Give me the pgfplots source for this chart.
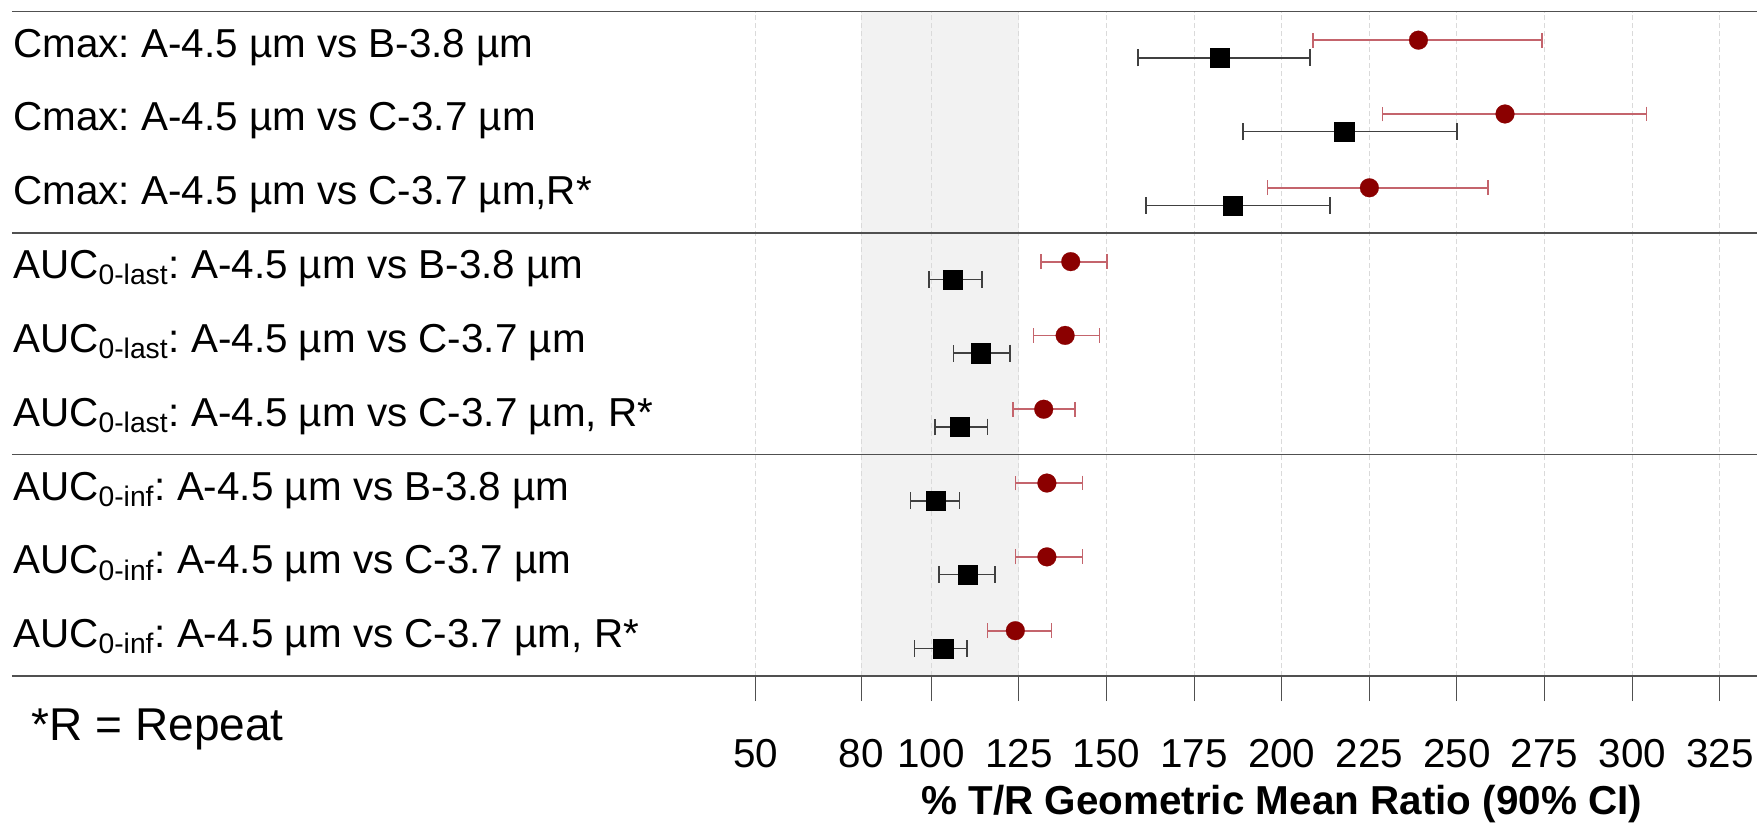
\documentclass[border=0pt]{standalone}
\usepackage{fontspec}
\setmainfont{Liberation Sans}
\usepackage{pgfplots}
\pgfplotsset{compat=1.18}
\usepackage{pgfplotstable}
\definecolor{dred}{HTML}{8B0000}
\definecolor{cired}{HTML}{C4646C}
\definecolor{band}{HTML}{F2F2F2}
\definecolor{gridc}{HTML}{DADADA}
\definecolor{linec}{HTML}{505050}
\definecolor{blk}{HTML}{404040}
\newcommand{\lab}{\fontsize{20.2}{24}\selectfont}
\frenchspacing

\pgfplotstableread{
y     m     lo    hi
8.875 182.2 159.0 208.1
7.875 217.8 189.0 250.0
6.875 185.9 161.2 213.8
5.875 106.2 99.3  114.4
4.875 114.1 106.4 122.4
3.875 108.2 101.0 116.0
2.875 101.2 94.1  108.1
1.875 110.3 102.2 118.2
0.875 103.4 95.2  110.2
}\blackdata

\pgfplotstableread{
y     m     lo    hi
9.115 239.0 209.0 274.2
8.115 263.7 228.8 304.1
7.115 225.0 195.9 258.9
6.115 139.8 131.3 150.1
5.115 138.2 129.2 148.0
4.115 132.1 123.4 141.1
3.115 133.0 124.0 143.2
2.115 133.0 124.0 143.2
1.115 124.0 116.1 134.3
}\reddata

\begin{document}
\begin{tikzpicture}
\begin{axis}[
  scale only axis, width=872.5pt, height=332.15pt,
  xmin=-162.3, xmax=335.6, ymin=0.5, ymax=9.5,
  axis x line*=bottom, axis y line=none,
  x axis line style={-, linec, line width=0.7pt},
  xtick={50,80,100,125,150,175,200,225,250,275,300,325},
  tick align=outside, major tick length=12.5pt,
  xtick style={linec, line width=0.5pt},
  xmajorgrids,
  major grid style={gridc, dash pattern=on 2.5pt off 1.5pt, line width=0.5pt},
  ytick=\empty,
  /pgf/number format/assume math mode=true,
  xticklabel style={font=\lab, anchor=base, yshift=-33.2pt},
  set layers, clip=false,
]
\begin{pgfonlayer}{axis background}
\fill[band] (axis cs:80,0.5) rectangle (axis cs:125,9.5);
\end{pgfonlayer}
\draw[linec, line width=0.7pt] (axis cs:-162.3,9.5) -- (axis cs:335.6,9.5);
\draw[linec, line width=0.7pt] (axis cs:-162.3,6.5) -- (axis cs:335.6,6.5);
\draw[linec, line width=0.7pt] (axis cs:-162.3,3.5) -- (axis cs:335.6,3.5);

\addplot[only marks, mark=square*, mark size=4.8pt,
  mark options={fill=black, draw=black, line width=0.1pt},
  error bars/.cd, x dir=both, x explicit,
  error bar style={line width=0.8pt, blk},
  error mark options={rotate=90, mark size=4.2pt, line width=0.8pt, blk}]
  table[x=m, y=y, x error plus expr=\thisrow{hi}-\thisrow{m}, x error minus expr=\thisrow{m}-\thisrow{lo}] {\blackdata};

\addplot[only marks, mark=*, mark size=4.7pt,
  mark options={fill=dred, draw=dred, line width=0.1pt},
  error bars/.cd, x dir=both, x explicit,
  error bar style={line width=0.9pt, cired},
  error mark options={rotate=90, mark size=3.7pt, line width=0.8pt, cired}]
  table[x=m, y=y, x error plus expr=\thisrow{hi}-\thisrow{m}, x error minus expr=\thisrow{m}-\thisrow{lo}] {\reddata};

\node[anchor=base west, inner sep=0pt, font=\lab] at (axis cs:-162,8.885) {Cmax: A-4.5 µm vs B-3.8 µm};
\node[anchor=base west, inner sep=0pt, font=\lab] at (axis cs:-162,7.885) {Cmax: A-4.5 µm vs C-3.7 µm};
\node[anchor=base west, inner sep=0pt, font=\lab] at (axis cs:-162,6.885) {Cmax: A-4.5 µm vs C-3.7 µm,R*};
\node[anchor=base west, inner sep=0pt, font=\lab] at (axis cs:-162,5.885) {AUC\textsubscript{0-last}: A-4.5 µm vs B-3.8 µm};
\node[anchor=base west, inner sep=0pt, font=\lab] at (axis cs:-162,4.885) {AUC\textsubscript{0-last}: A-4.5 µm vs C-3.7 µm};
\node[anchor=base west, inner sep=0pt, font=\lab] at (axis cs:-162,3.885) {AUC\textsubscript{0-last}: A-4.5 µm vs C-3.7 µm, R*};
\node[anchor=base west, inner sep=0pt, font=\lab] at (axis cs:-162,2.885) {AUC\textsubscript{0-inf}: A-4.5 µm vs B-3.8 µm};
\node[anchor=base west, inner sep=0pt, font=\lab] at (axis cs:-162,1.885) {AUC\textsubscript{0-inf}: A-4.5 µm vs C-3.7 µm};
\node[anchor=base west, inner sep=0pt, font=\lab] at (axis cs:-162,0.885) {AUC\textsubscript{0-inf}: A-4.5 µm vs C-3.7 µm, R*};

\node[anchor=base west, inner sep=0pt, font=\fontsize{23}{27}\selectfont] at (axis cs:-156.7,-0.367) {*R = Repeat};
\node[anchor=base, inner sep=0pt, font=\bfseries\lab, yshift=-69pt] at (axis cs:200,0.5) {\% T/R Geometric Mean Ratio (90\% CI)};

\coordinate (BL) at (axis cs:-165.68,-1.505);
\coordinate (TR) at (axis cs:335.6,9.659);
\end{axis}
\pgfresetboundingbox
\path[use as bounding box] (BL) rectangle (TR);
\end{tikzpicture}
\end{document}
